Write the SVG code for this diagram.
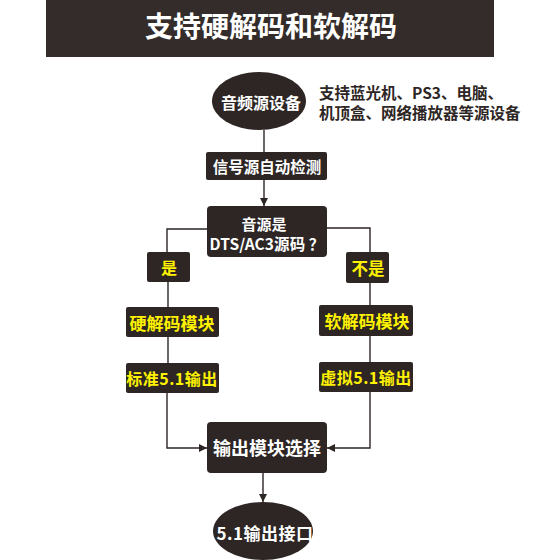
<svg xmlns="http://www.w3.org/2000/svg" width="560" height="560" viewBox="0 0 560 560">
<style>
.box{fill:#2d2624;}
.t{font-family:"Noto Sans CJK SC","Noto Sans",sans-serif;font-weight:bold;text-anchor:middle;dominant-baseline:central;}
.w{fill:#ffffff;}
.y{fill:#fff200;}
.c{fill:none;stroke:#2d2624;stroke-width:1.4;}
</style>
<defs>
<marker id="ah" viewBox="0 0 10 10" refX="10" refY="5" markerWidth="8" markerHeight="8" markerUnits="userSpaceOnUse" orient="auto">
<path d="M0,0 L10,5 L0,10 z" fill="#2d2624"/>
</marker>
</defs>
<rect width="560" height="560" fill="#ffffff"/>
<g id="title">
<rect x="46" y="0" width="448" height="57" fill="#342c2a"/>
<text class="t w" x="271" y="25" font-size="28">支持硬解码和软解码</text>
</g>
<g id="connectors">
<line class="c" x1="264" y1="130" x2="264" y2="152"/>
<line class="c" x1="264" y1="180" x2="264" y2="206" marker-end="url(#ah)"/>
<polyline class="c" points="207,229 167,229 167,252"/>
<polyline class="c" points="327,228 370,228 370,252"/>
<line class="c" x1="168" y1="282" x2="168" y2="307"/>
<line class="c" x1="370" y1="283" x2="370" y2="305"/>
<line class="c" x1="168" y1="337" x2="168" y2="363"/>
<line class="c" x1="370" y1="336" x2="370" y2="362"/>
<polyline class="c" points="167,393 167,448 207,448" marker-end="url(#ah)"/>
<polyline class="c" points="370,392 370,448 327,448" marker-end="url(#ah)"/>
<line class="c" x1="263" y1="473" x2="263" y2="502" marker-end="url(#ah)"/>
</g>
<g id="n-source">
<ellipse class="box" cx="259" cy="101" rx="47" ry="29"/>
<text class="t w" x="261" y="102" font-size="16">音频源设备</text>
</g>
<g id="n-note">
<text class="t" x="319" y="92" font-size="15.5" fill="#2d2624" style="text-anchor:start">支持蓝光机、PS3、电脑、</text>
<text class="t" x="319" y="112" font-size="15.5" fill="#2d2624" style="text-anchor:start">机顶盒、网络播放器等源设备</text>
</g>
<g id="n-detect">
<rect class="box" x="206" y="152" width="121" height="28" rx="2"/>
<text class="t w" x="267" y="166" font-size="15.5">信号源自动检测</text>
</g>
<g id="n-decision">
<rect class="box" x="207" y="206" width="120" height="51" rx="4"/>
<text class="t w" x="264" y="223" font-size="15">音源是</text>
<text class="t w" x="267" y="243" font-size="15.5" letter-spacing="0.1">DTS/AC3源码 ？</text>
</g>
<g id="n-yes">
<rect class="box" x="147" y="252" width="43" height="30" rx="2"/>
<text class="t y" x="169" y="267" font-size="16">是</text>
</g>
<g id="n-no">
<rect class="box" x="346" y="252" width="43" height="31" rx="2"/>
<text class="t y" x="368" y="268" font-size="16.5">不是</text>
</g>
<g id="n-hard">
<rect class="box" x="126" y="307" width="93" height="30" rx="2"/>
<text class="t y" x="172" y="322" font-size="17">硬解码模块</text>
</g>
<g id="n-std">
<rect class="box" x="126" y="363" width="93" height="30" rx="2"/>
<text class="t y" x="172" y="378" font-size="16" letter-spacing="0.5">标准5.1输出</text>
</g>
<g id="n-soft">
<rect class="box" x="319" y="305" width="94" height="31" rx="2"/>
<text class="t y" x="367" y="320" font-size="17">软解码模块</text>
</g>
<g id="n-virt">
<rect class="box" x="319" y="362" width="94" height="30" rx="2"/>
<text class="t y" x="366" y="377" font-size="16" letter-spacing="0.5">虚拟5.1输出</text>
</g>
<g id="n-select">
<rect class="box" x="207" y="422" width="120" height="51" rx="4"/>
<text class="t w" x="267" y="447" font-size="18">输出模块选择</text>
</g>
<g id="n-out">
<ellipse class="box" cx="263" cy="531" rx="50" ry="29"/>
<text class="t w" x="265" y="532" font-size="17" letter-spacing="0.5">5.1输出接口</text>
</g>
</svg>
